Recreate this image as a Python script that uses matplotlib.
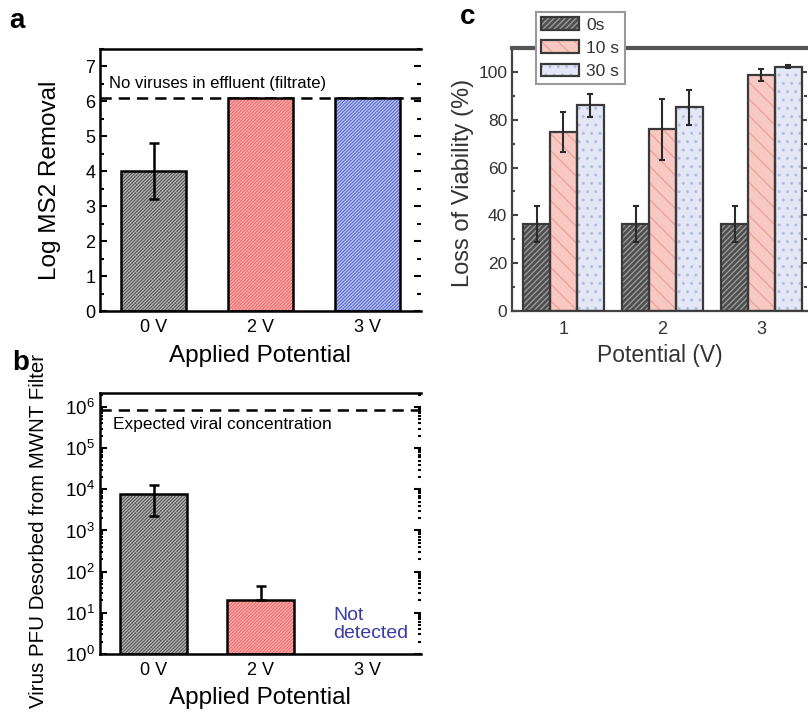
import numpy as np
import matplotlib
matplotlib.use("Agg")
import matplotlib.pyplot as plt
from matplotlib.patches import Patch
from matplotlib.legend_handler import HandlerTuple
from matplotlib.ticker import MultipleLocator, LogLocator, NullFormatter, FixedLocator

plt.rcParams['font.family'] = ['Liberation Sans', 'DejaVu Sans']
plt.rcParams['mathtext.fontset'] = 'custom'
plt.rcParams['mathtext.rm'] = 'Liberation Sans'
plt.rcParams['hatch.linewidth'] = 1.0

# ---------------- data ----------------
a_labels = ['0 V', '2 V', '3 V']
a_values = [4.0, 6.1, 6.1]
a_err = [0.8, 0.0, 0.0]
a_limit = 6.1

b_labels = ['0 V', '2 V', '3 V']
b_values = [7500, 21]
b_err_low = [5300, 0]
b_err_high = [5500, 24]
b_expected = 8.5e5

c_potentials = [1, 2, 3]
c_series = ['0s', '10 s', '30 s']
c_0s = [36.5, 36.5, 36.5]
c_0s_err = [7.5, 7.5, 7.5]
c_10s = [74.8, 76.0, 98.7]
c_10s_err = [8.4, 12.8, 2.5]
c_30s = [86.1, 85.2, 102.1]
c_30s_err = [4.8, 7.4, 0.6]

W, H = 808, 713
fig = plt.figure(figsize=(W / 100, H / 100), dpi=100)


def fx(px):
    return px / W


def fy(py):
    return 1 - py / H


def rect(l, t, r, b):
    return [fx(l), fy(b), (r - l) / W, (b - t) / H]


def hbar(ax, x, h, w, face, hatchc, hatch, edge='black', lw=1.8, bottom=0):
    ax.bar(x, h, w, bottom=bottom, color=face, edgecolor=hatchc, hatch=hatch,
           linewidth=0, zorder=2)
    ax.bar(x, h, w, bottom=bottom, fill=False, edgecolor=edge, linewidth=lw,
           zorder=3)


a_face = ['#4a4a4a', '#ec5858', '#4f60c8']
a_hatch = ['#b4b4b4', '#ffb4b4', '#b8c2f2']
a_pat = '/' * 10

# ---------------- panel a ----------------
axa = fig.add_axes(rect(100, 49, 421, 311))
xa = np.arange(len(a_labels))
for i in range(len(a_labels)):
    hbar(axa, xa[i], a_values[i], 0.61, a_face[i], a_hatch[i], a_pat)
axa.errorbar(xa[0], a_values[0], yerr=a_err[0], fmt='none', ecolor='black',
             elinewidth=1.8, capsize=3.5, capthick=1.8, zorder=4)
axa.axhline(a_limit, color='black', lw=1.8, ls=(0, (4.5, 2.8)), zorder=1)
axa.text(-0.416, 6.39, 'No viruses in effluent (filtrate)', fontsize=12,
         va='baseline', ha='left')
axa.set_xlim(-0.5, 2.5)
axa.set_ylim(0, 7.5)
axa.set_xticks(xa)
axa.set_xticklabels(a_labels, fontsize=13)
axa.yaxis.set_major_locator(MultipleLocator(1))
axa.yaxis.set_minor_locator(MultipleLocator(0.5))
axa.tick_params(axis='y', which='both', direction='in', left=True, right=True,
                labelsize=13, width=1.5)
axa.tick_params(axis='y', which='major', length=5)
axa.tick_params(axis='y', which='minor', length=3)
axa.tick_params(axis='x', length=0, pad=6)
for s in axa.spines.values():
    s.set_linewidth(1.8)
axa.spines['right'].set_visible(False)
fig.text(fx(50), fy(180), 'Log MS2 Removal', rotation=90, fontsize=17.5,
         ha='center', va='center')
fig.text(fx(260), fy(356), 'Applied Potential', fontsize=17.5,
         ha='center', va='center')
fig.text(fx(17), fy(21), 'a', fontsize=20, fontweight='bold',
         ha='center', va='center')

# ---------------- panel b ----------------
axb = fig.add_axes(rect(100, 393, 421, 654))
xb = np.arange(len(b_labels))
for i in range(len(b_values)):
    hbar(axb, xb[i], b_values[i] - 1, 0.62, a_face[i], a_hatch[i], a_pat,
         bottom=1)
axb.set_yscale('log')
axb.errorbar(xb[:len(b_values)], b_values, yerr=[b_err_low, b_err_high],
             fmt='none', ecolor='black', elinewidth=1.8, capsize=3.5,
             capthick=1.8, zorder=4)
axb.axhline(b_expected, color='black', lw=1.8, ls=(0, (4.5, 2.8)), zorder=1)
axb.text(-0.38, 10 ** 5.46, 'Expected viral concentration', fontsize=12.5,
         va='baseline', ha='left')
axb.text(1.68, 10 ** 0.71, 'Not\ndetected', fontsize=14, color='#3b3ba8',
         va='center', ha='left', linespacing=1.1)
axb.set_xlim(-0.5, 2.5)
axb.set_ylim(1, 10 ** 6.34)
axb.set_xticks(xb)
axb.set_xticklabels(b_labels, fontsize=13)
axb.yaxis.set_major_locator(FixedLocator([10.0 ** k for k in range(7)]))
axb.set_yticklabels([r'$\mathregular{10^{%d}}$' % k for k in range(7)])
axb.yaxis.set_minor_locator(LogLocator(base=10, subs=np.arange(2, 10), numticks=20))
axb.yaxis.set_minor_formatter(NullFormatter())
axb.tick_params(axis='y', which='both', direction='in', left=True, right=True,
                labelsize=13.5, width=1.5)
axb.tick_params(axis='y', which='major', length=5)
axb.tick_params(axis='y', which='minor', length=2.5)
axb.tick_params(axis='x', length=0, pad=6)
for s in axb.spines.values():
    s.set_linewidth(1.8)
axb.spines['right'].set_visible(False)
fig.text(fx(39), fy(531), 'Virus PFU Desorbed from MWNT Filter', rotation=90,
         fontsize=14.8, ha='center', va='center')
fig.text(fx(260), fy(698), 'Applied Potential', fontsize=17.5,
         ha='center', va='center')
fig.text(fx(21), fy(363), 'b', fontsize=20, fontweight='bold',
         ha='center', va='center')

# ---------------- panel c ----------------
tc = '#333333'
axc = fig.add_axes(rect(512, 48, 807, 311))
xc = np.array(c_potentials, dtype=float)
bw = 0.27
c_face = ['#4e4e4e', '#f8c9c2', '#e3e7f6']
c_hatchc = ['#9a9a9a', '#eba49c', '#b5bee0']
c_hatch = ['//////', '\\\\', '..']
c_vals = [c_0s, c_10s, c_30s]
c_errs = [c_0s_err, c_10s_err, c_30s_err]
offs = [-bw, 0, bw]
for k in range(3):
    hbar(axc, xc + offs[k], c_vals[k], bw, c_face[k], c_hatchc[k], c_hatch[k],
         edge='#3a3a3a', lw=1.6)
    axc.errorbar(xc + offs[k], c_vals[k], yerr=c_errs[k], fmt='none',
                 ecolor='#2a2a2a', elinewidth=1.5, capsize=2.5, capthick=1.5,
                 zorder=4)
axc.set_xlim(0.48, 3.46)
axc.set_ylim(0, 110)
axc.set_xticks(xc)
axc.set_xticklabels([str(p) for p in c_potentials], fontsize=13, color=tc)
axc.yaxis.set_major_locator(MultipleLocator(20))
axc.yaxis.set_minor_locator(MultipleLocator(10))
axc.tick_params(axis='y', which='both', direction='in', left=True, right=True,
                labelsize=12.5, labelcolor=tc, color='#444444', width=1.5)
axc.tick_params(axis='y', which='major', length=4)
axc.tick_params(axis='y', which='minor', length=2)
axc.tick_params(axis='x', length=0, pad=7)
for s in ['left', 'bottom']:
    axc.spines[s].set_linewidth(1.6)
    axc.spines[s].set_color('#444444')
axc.spines['top'].set_linewidth(3)
axc.spines['top'].set_color('#555555')
axc.spines['right'].set_visible(False)
fig.text(fx(463), fy(183), 'Loss of Viability (%)', rotation=90, fontsize=17,
         ha='center', va='center', color=tc)
fig.text(fx(660), fy(355), 'Potential (V)', fontsize=16.5,
         ha='center', va='center', color=tc)
fig.text(fx(468), fy(17), 'c', fontsize=20, fontweight='bold',
         ha='center', va='center')

handles = []
for k in range(3):
    handles.append((Patch(facecolor=c_face[k], edgecolor=c_hatchc[k],
                          hatch=c_hatch[k], linewidth=0),
                    Patch(fill=False, edgecolor='#3a3a3a', linewidth=1.6)))
leg = fig.legend(handles, c_series, loc='upper left',
                 bbox_to_anchor=(fx(536), fy(12)), borderaxespad=0,
                 handler_map={tuple: HandlerTuple(ndivide=1)},
                 fontsize=12.5, handlelength=2.2, handleheight=0.75,
                 handletextpad=0.4, labelspacing=0.45, borderpad=0.3,
                 fancybox=False, framealpha=1, edgecolor='#999999',
                 labelcolor=tc)
leg.get_frame().set_linewidth(1.5)

fig.savefig('out.png', dpi=100)
